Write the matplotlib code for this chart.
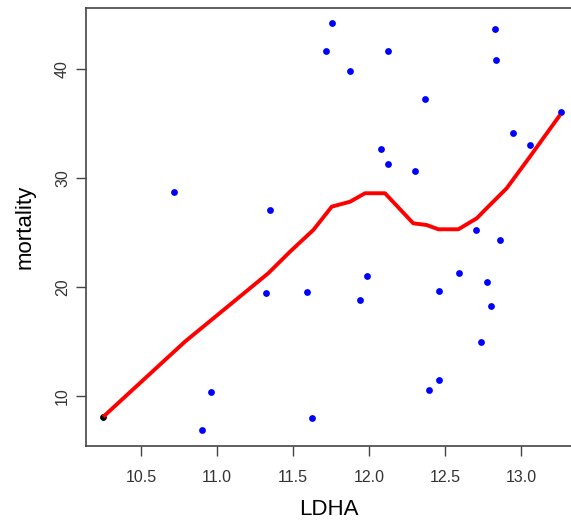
import matplotlib
matplotlib.use("Agg")
import matplotlib.pyplot as plt

# LDHA expression vs mortality
ldha = [10.719, 10.901, 10.961, 11.324, 11.351, 11.592, 11.625, 11.717, 11.757,
        11.873, 11.939, 11.989, 12.081, 12.123, 12.123, 12.305, 12.371, 12.396,
        12.463, 12.463, 12.589, 12.704, 12.737, 12.779, 12.803, 12.829, 12.838,
        12.862, 12.945, 13.059, 13.261]
mortality = [28.68, 6.88, 10.37, 19.40, 27.05, 19.52, 7.92, 41.68, 44.22,
             39.82, 18.82, 21.02, 32.65, 41.68, 31.25, 30.66, 37.27, 10.50,
             11.44, 19.64, 21.27, 25.22, 14.90, 20.44, 18.26, 43.64, 40.85,
             24.30, 34.15, 32.99, 36.02]

# first observation, drawn in black
first_x = [10.252]
first_y = [8.07]

# smoothed trend
fit_x = [10.252, 10.789, 11.337, 11.480, 11.634, 11.755, 11.875, 11.974, 12.105,
         12.291, 12.380, 12.456, 12.588, 12.709, 12.774, 12.906, 13.059, 13.257]
fit_y = [8.07, 14.96, 21.24, 23.22, 25.22, 27.36, 27.81, 28.59, 28.59,
         25.83, 25.67, 25.28, 25.28, 26.29, 27.21, 29.05, 31.95, 35.78]

plt.rcParams['font.family'] = ['Liberation Sans', 'DejaVu Sans']

fig = plt.figure(figsize=(5.71, 5.24), dpi=100)
ax = fig.add_axes([86 / 571, 1 - 446 / 524, 1 - 86 / 571, (446 - 8) / 524])

ax.scatter(ldha, mortality, s=24, color='#0000ff', zorder=3, linewidths=0)
ax.scatter(first_x, first_y, s=24, color='black', zorder=3, linewidths=0)
ax.plot(fit_x, fit_y, color='#ff0000', lw=2.8, zorder=4, solid_capstyle='butt')

ax.set_xlim(10.138, 13.329)
ax.set_ylim(5.38, 45.60)
ax.set_xticks([10.5, 11.0, 11.5, 12.0, 12.5, 13.0])
ax.set_yticks([10, 20, 30, 40])
ax.set_yticklabels(['10', '20', '30', '40'], rotation=90, va='center')

for side in ['left', 'bottom', 'top']:
    ax.spines[side].set_color('#444444')
    ax.spines[side].set_linewidth(1.2)
ax.spines['right'].set_visible(False)

ax.tick_params(axis='both', length=7.5, width=1.0, color='#444444',
               labelsize=11.5, labelcolor='#333333')
ax.tick_params(axis='x', pad=10)
ax.tick_params(axis='y', pad=4)

ax.set_xlabel('LDHA', fontsize=16, labelpad=10)
ax.set_ylabel('mortality', fontsize=16, labelpad=14)

fig.savefig('out.png', dpi=100)
